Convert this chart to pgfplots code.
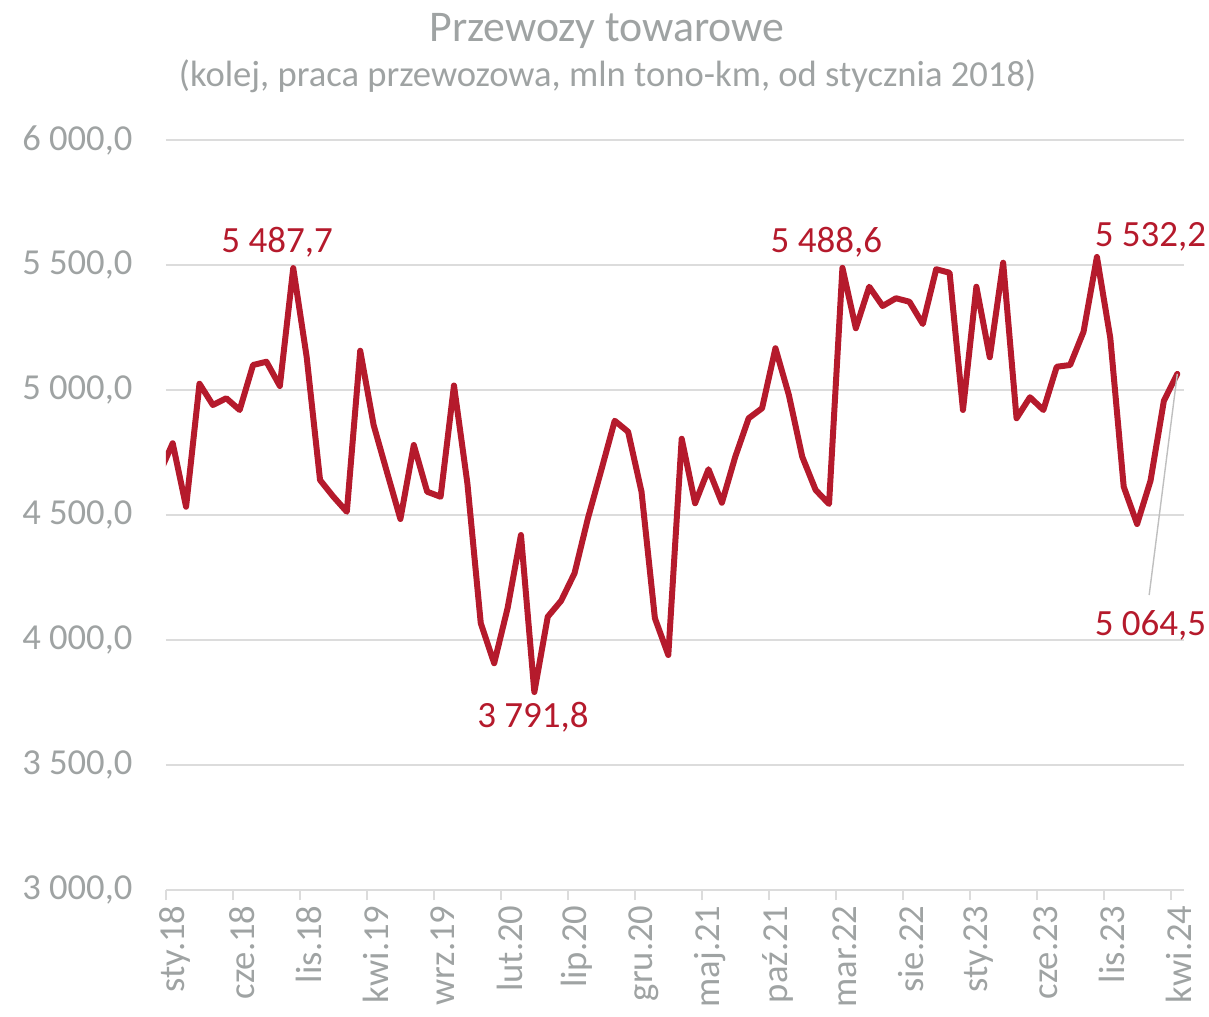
\documentclass[border=0pt]{standalone}
\usepackage{fontspec}
\setmainfont{Carlito}
\usepackage{pgfplots}
\pgfplotsset{compat=1.18}
\definecolor{txtgray}{HTML}{9FA3A3}
\definecolor{gridgray}{HTML}{DCDCDC}
\definecolor{linered}{HTML}{B51A2C}
\pgfplotstableread{
x y
-1 4665
0 4787
1 4533
2 5025
3 4940
4 4967
5 4920
6 5100
7 5113
8 5016
9 5487.7
10 5133
11 4640
12 4573
13 4513
14 5157
15 4860
16 4671
17 4484
18 4780
19 4593
20 4573
21 5018
22 4627
23 4067
24 3907
25 4127
26 4420
27 3791.8
28 4093
29 4157
30 4267
31 4487
32 4680
33 4877
34 4833
35 4593
36 4087
37 3940
38 4805
39 4547
40 4683
41 4549
42 4733
43 4887
44 4927
45 5167
46 4980
47 4733
48 4600
49 4544
50 5488.6
51 5247
52 5413
53 5336
54 5367
55 5353
56 5264
57 5483
58 5469
59 4920
60 5413
61 5131
62 5509
63 4887
64 4971
65 4920
66 5093
67 5100
68 5233
69 5532.2
70 5207
71 4613
72 4464
73 4637
74 4957
75 5064.5
}\datatable
\begin{document}
\begin{tikzpicture}
\path[use as bounding box] (-83bp,-63.5bp) rectangle (521.5bp,445bp);
\begin{axis}[
  at={(0,0)}, anchor=south west,
  scale only axis,
  width=509bp, height=375bp,
  xmin=-0.5, xmax=75.5,
  ymin=3000, ymax=6000,
  axis line style={draw=none},
  ymajorgrids,
  grid style={gridgray, line width=0.9bp},
  ytick={3000,3500,...,6000},
  yticklabels={{3 000,0},{3 500,0},{4 000,0},{4 500,0},{5 000,0},{5 500,0},{6 000,0}},
  ytick style={draw=none},
  yticklabel style={font=\fontsize{18.3bp}{20bp}\selectfont, text=txtgray, anchor=east, xshift=-9bp},
  xtick={0,5,...,75},
  xticklabels={sty.18,cze.18,lis.18,kwi.19,wrz.19,lut.20,lip.20,gru.20,maj.21,paź.21,mar.22,sie.22,sty.23,cze.23,lis.23,kwi.24},
  major x tick style={draw=none},
  minor xtick={-0.5,4.5,...,75.5},
  minor x tick style={gridgray, line width=0.9bp},
  minor tick length=5bp,
  tick align=outside,
  xtick pos=bottom,
  ytick pos=left,
  xticklabel style={font=\fontsize{18.3bp}{20bp}\selectfont, text=txtgray, rotate=90, anchor=east, xshift=0bp, yshift=-1bp},
  clip mode=individual,
]
\draw[gridgray, line width=0.9bp] (axis cs:-0.5,3000) -- (axis cs:75.5,3000);
\addplot[linered, line width=3bp, line join=round, line cap=round, mark=none] table[x=x,y=y] {\datatable};
\draw[black!25, line width=0.7bp] (axis cs:72.9,4180) -- (axis cs:75,5064.5);
\node[anchor=base, text=linered, font=\fontsize{18.5bp}{20bp}\selectfont] at (axis cs:7.8,5548) {5 487,7};
\node[anchor=base, text=linered, font=\fontsize{18.5bp}{20bp}\selectfont] at (axis cs:26.9,3650) {3 791,8};
\node[anchor=base, text=linered, font=\fontsize{18.5bp}{20bp}\selectfont] at (axis cs:48.8,5548) {5 488,6};
\node[anchor=base, text=linered, font=\fontsize{18.5bp}{20bp}\selectfont] at (axis cs:73.0,5572) {5 532,2};
\node[anchor=base, text=linered, font=\fontsize{18.5bp}{20bp}\selectfont] at (axis cs:73.0,4020) {5 064,5};
\end{axis}
\node[anchor=base, text=txtgray, font=\fontsize{21.9bp}{24bp}\selectfont] at (220.5bp,424bp) {Przewozy towarowe};
\node[anchor=base, text=txtgray, font=\fontsize{18.3bp}{20bp}\selectfont] at (220.8bp,401.5bp) {(kolej, praca przewozowa, mln tono-km, od stycznia 2018)};
\end{tikzpicture}
\end{document}
